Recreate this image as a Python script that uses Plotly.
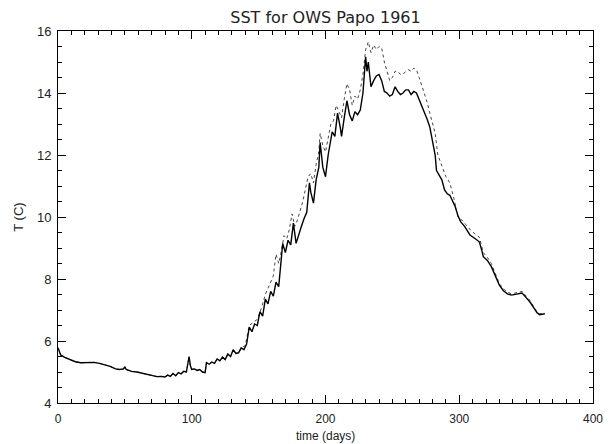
import plotly.graph_objects as go

# Solid series (day, temperature C)
solid_days = [0, 2, 5, 9, 13, 17, 22, 27, 31, 35, 39, 43, 46, 49, 50, 51, 55, 59, 62, 65, 68, 71, 74, 77, 80,
              82, 84, 86, 88, 90, 92, 94, 96, 97, 98, 99, 100, 102, 104, 106, 108, 110, 111, 113, 115, 117,
              119, 121, 123, 125, 127, 129, 131, 133, 135, 137, 139, 141, 143, 145, 147, 149, 151, 153, 155,
              157, 159, 161, 163, 165, 167, 168, 170, 172, 174, 176, 178, 180, 182, 184, 186, 188, 189, 191,
              193, 195, 196, 198, 200, 202, 203, 205, 207, 209, 211, 212, 214, 216, 218, 220, 222, 224, 226,
              228, 230, 231, 232, 234, 236, 238, 240, 242, 244, 246, 248, 250, 252, 254, 256, 258, 260, 262,
              264, 266, 268, 270, 272, 274, 276, 278, 280, 282, 283, 285, 287, 289, 291, 293, 295, 297, 299,
              301, 304, 308, 312, 315, 317, 318, 321, 324, 327, 330, 333, 336, 339, 342, 345, 347, 350, 353,
              356, 358, 360, 362, 364]
solid_temp = [5.78, 5.55, 5.47, 5.40, 5.33, 5.30, 5.30, 5.31, 5.28, 5.24, 5.18, 5.10, 5.08, 5.10, 5.17, 5.08,
              5.02, 5.00, 4.97, 4.92, 4.90, 4.86, 4.85, 4.86, 4.84,
              4.90, 4.86, 4.95, 4.88, 4.98, 4.94, 5.02, 5.00, 5.25, 5.50, 5.20, 5.08, 5.10, 5.05, 5.08, 5.00,
              4.98, 5.30, 5.25, 5.32, 5.28,
              5.42, 5.36, 5.48, 5.40, 5.58, 5.50, 5.72, 5.60, 5.62, 5.78, 5.72, 5.90, 6.45, 6.30, 6.55, 6.50,
              6.95, 6.80, 7.35,
              7.20, 7.60, 7.45, 7.90, 7.75, 8.60, 9.15, 8.85, 9.25, 9.10, 9.80, 9.15, 9.45, 9.70, 9.95, 10.15,
              11.10, 10.80, 10.45,
              11.20, 11.60, 12.40, 11.60, 11.30, 12.00, 12.30, 12.75, 12.60, 13.35, 12.90, 12.60, 13.20, 13.75,
              13.30, 13.10, 13.40, 13.30, 13.45,
              14.00, 15.17, 14.70, 15.00, 14.20, 14.40, 14.55, 14.60, 14.40, 14.05, 14.00, 13.90, 13.95, 14.20,
              14.05, 13.95, 14.00, 14.10, 14.10,
              13.95, 14.05, 14.00, 13.80, 13.60, 13.35, 13.15, 12.90, 12.50, 12.00, 11.50, 11.35, 11.20, 10.87,
              10.75, 10.70, 10.50, 10.33, 10.05,
              9.85, 9.70, 9.42, 9.30, 9.20, 8.90, 8.72, 8.60, 8.40, 8.10, 7.80, 7.62, 7.52, 7.48, 7.50, 7.52,
              7.55, 7.40, 7.25,
              7.05, 6.92, 6.85, 6.86, 6.88]

# Dotted series (day, temperature C)
dotted_days = [0, 2, 5, 9, 13, 17, 22, 27, 31, 35, 39, 43, 46, 49, 50, 51, 55, 59, 62, 65, 68, 71, 74, 77, 80,
               82, 84, 86, 88, 90, 92, 94, 96, 97, 98, 99, 100, 102, 104, 106, 108, 110, 111, 113, 115, 117,
               119, 121, 123, 125, 127, 129, 131, 133, 135, 137,
               140, 143, 146, 149, 152, 155, 158, 161, 163, 165, 167, 169, 171, 173, 175, 177, 179, 181, 183,
               185, 187, 189, 191, 193, 195, 196, 198, 200, 202, 204, 206, 208, 210, 212, 214, 216, 218, 220,
               222, 224, 226, 228, 230, 232, 234, 236, 238, 240, 242, 244, 246, 248, 250, 252, 254, 256, 258,
               260, 262, 264, 266, 268, 270, 272, 274, 276, 278, 280, 282, 284, 286, 288, 290, 293, 296, 299,
               302, 305, 309, 312, 315, 318, 321, 324, 327, 330, 333, 336, 339, 342, 345, 347, 350, 353, 356,
               358, 360, 362, 364]
dotted_temp = [5.78, 5.55, 5.47, 5.40, 5.33, 5.30, 5.30, 5.31, 5.28, 5.24, 5.18, 5.10, 5.08, 5.10, 5.17, 5.08,
               5.02, 5.00, 4.97, 4.92, 4.90, 4.86, 4.85, 4.86, 4.84,
               4.90, 4.86, 4.95, 4.88, 4.98, 4.94, 5.02, 5.00, 5.25, 5.50, 5.20, 5.08, 5.10, 5.05, 5.08, 5.00,
               4.98, 5.30, 5.25, 5.32, 5.28,
               5.42, 5.36, 5.48, 5.40, 5.58, 5.50, 5.72, 5.60, 5.62, 5.78,
               5.85, 6.50, 6.60, 6.70, 7.05, 7.50, 7.80, 8.10, 8.80, 8.50, 8.90, 9.40, 9.30, 9.60, 10.10, 9.70,
               9.90, 10.20, 10.50,
               10.90, 11.30, 11.40, 11.10, 11.70, 12.10, 12.70, 12.30, 12.10, 12.60, 13.00, 13.10, 13.60, 13.40,
               13.20, 13.80, 14.30, 14.10, 13.60,
               13.90, 13.80, 14.10, 14.60, 15.40, 15.65, 15.30, 15.55, 15.40, 15.50, 15.45, 15.00, 14.70, 14.40,
               14.50, 14.70, 14.70, 14.60, 14.60,
               14.70, 14.75, 14.70, 14.80, 14.75, 14.50, 14.25, 14.00, 13.70, 13.35, 13.00, 12.70, 12.00, 11.75,
               11.50, 11.30, 11.10, 10.60, 10.00,
               9.90, 9.75, 9.55, 9.45, 9.35, 8.85, 8.70, 8.50, 8.20, 7.85, 7.68, 7.58, 7.52, 7.55, 7.58, 7.60,
               7.45, 7.30, 7.08,
               6.95, 6.88, 6.88, 6.90]

title_text = "SST for OWS Papo 1961"
x_title = "time (days)"
y_title = "T (C)"
x_ticks = [0, 100, 200, 300, 400]
y_ticks = [4, 6, 8, 10, 12, 14, 16]

fig = go.Figure()
fig.add_trace(go.Scatter(x=dotted_days, y=dotted_temp, mode="lines",
                         line=dict(color="#444444", width=1, dash="dot"), showlegend=False))
fig.add_trace(go.Scatter(x=solid_days, y=solid_temp, mode="lines",
                         line=dict(color="black", width=1.4), showlegend=False))

font_family = "Liberation Sans, Arial, sans-serif"
# the page body has an 8px default margin, so the figure is sized to fill the window exactly
fig.update_layout(
    width=605, height=436,
    margin=dict(l=50, r=20, t=23, b=41, autoexpand=False),
    paper_bgcolor="white", plot_bgcolor="white",
    title=dict(text=title_text, x=0.5248, xanchor="center", y=0.979, yanchor="middle",
               font=dict(family="DejaVu Sans, sans-serif", size=16, color="#222")),
    font=dict(family=font_family, color="#222"),
    annotations=[dict(text=x_title, xref="paper", yref="paper", x=0.5, y=-0.088,
                      xanchor="center", yanchor="middle", showarrow=False,
                      font=dict(family=font_family, size=12, color="#222"))],
)
fig.update_xaxes(
    range=[0, 400], tickvals=x_ticks, ticktext=[str(v) for v in x_ticks],
    showgrid=False, zeroline=False, showline=True, linecolor="black", linewidth=1,
    mirror="allticks", ticks="inside", ticklen=8, tickcolor="black", tickwidth=1,
    minor=dict(ticks="inside", dtick=10, ticklen=4, tickcolor="black", tickwidth=1, showgrid=False),
    ticklabelstandoff=5, automargin=False,
    tickfont=dict(size=12),
)
fig.update_yaxes(
    range=[4, 16], tickvals=y_ticks, ticktext=[str(v) for v in y_ticks],
    showgrid=False, zeroline=False, showline=True, linecolor="black", linewidth=1,
    mirror="allticks", ticks="inside", ticklen=8, tickcolor="black", tickwidth=1,
    minor=dict(ticks="inside", dtick=0.5, ticklen=4, tickcolor="black", tickwidth=1, showgrid=False),
    ticklabelstandoff=3, automargin=False,
    tickfont=dict(size=13), title=dict(text=y_title, font=dict(size=13), standoff=10),
)

fig.write_html("out.html")
